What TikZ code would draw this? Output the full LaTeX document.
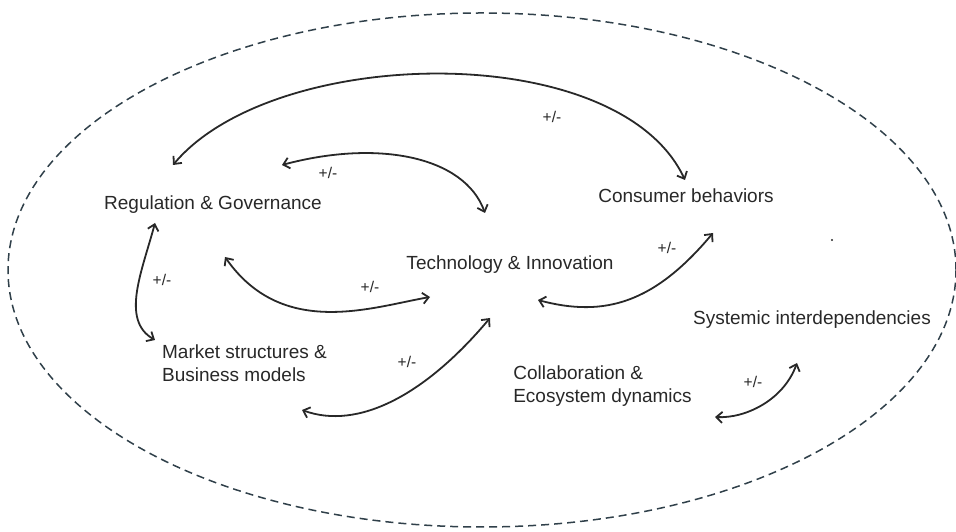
\documentclass[tikz,border=0pt]{standalone}
\usepackage{fontspec}
\setmainfont{Liberation Sans}
\usetikzlibrary{positioning, arrows.meta}
\definecolor{inkgray}{RGB}{40,40,40}
\definecolor{slate}{RGB}{48,64,74}
\tikzset{
	factor/.style={
		inner sep=0pt,
		text=inkgray,
		font=\fontsize{19}{23}\selectfont,
	},
	factor2/.style={
		factor,
		align=left,
	},
	sign/.style={
		inner sep=0pt,
		text=inkgray,
		font=\fontsize{15.5}{17}\selectfont,
	},
	link/.style={
		<->,
		draw=inkgray,
		line width=1.8pt,
	},
	boundary/.style={
		draw=slate,
		line width=1.5pt,
		dash pattern=on 8pt off 5pt,
	},
}

\begin{document}
\begin{tikzpicture}[x=1pt, y=1pt, >={Straight Barb[length=6pt,width=11pt]}]
		\useasboundingbox (0,0) rectangle (956,532);
		\draw [boundary] (482,262) ellipse [x radius=474, y radius=257];

		\node [factor] (reg) at (213,327) {Regulation \& Governance};
		\node [factor] (cons) at (686,336) {Consumer behaviors};
		\node [factor] (tech) at (510,267) {Technology \& Innovation};
		\node [factor] (sys) at (812,212) {Systemic interdependencies};
		\node [factor2] (mkt) at (244.5,168.5) {Market structures \&\\Business models};
		\node [factor2] (coll) at (602.5,145.5) {Collaboration \&\\Ecosystem dynamics};

		\node [sign] (s1) at (552,415) {+/-};
		\node [sign] (s2) at (328,359) {+/-};
		\node [sign] (s3) at (370,245) {+/-};
		\node [sign] (s4) at (162,252) {+/-};
		\node [sign] (s5) at (407,170) {+/-};
		\node [sign] (s6) at (667,284) {+/-};
		\node [sign] (s7) at (753,150) {+/-};
		\fill [inkgray] (832,292) circle (1.2);

		\draw [link] ([shift={(-40,40)}]reg.center) .. controls +(50:157) and +(115:157) .. ([shift={(-1,16)}]cons.center);
		\draw [link] ([shift={(69,40)}]reg.center) .. controls +(15:100) and +(110:60) .. ([shift={(-25,52)}]tech.center);
		\draw [link] ([shift={(12,-52)}]reg.center) .. controls +(-55:100) and +(190:60) .. ([shift={(-80,-32)}]tech.center);
		\draw [link] ([shift={(-58,-18)}]reg.center) .. controls +(-105:50) and +(150:40) .. ([shift={(-89.5,23.5)}]mkt.center);
		\draw [link] ([shift={(57.5,-46.5)}]mkt.center) .. controls +(-20:60) and +(230:100) .. ([shift={(-20,-53)}]tech.center);
		\draw [link] ([shift={(28,-35)}]tech.center) .. controls +(-15:70) and +(230:90) .. ([shift={(27,-37)}]cons.center);
		\draw [link] ([shift={(112.5,-30.5)}]coll.center) .. controls +(-3:30) and +(250:40) .. ([shift={(-15,-43)}]sys.center);
	\end{tikzpicture}
\end{document}
